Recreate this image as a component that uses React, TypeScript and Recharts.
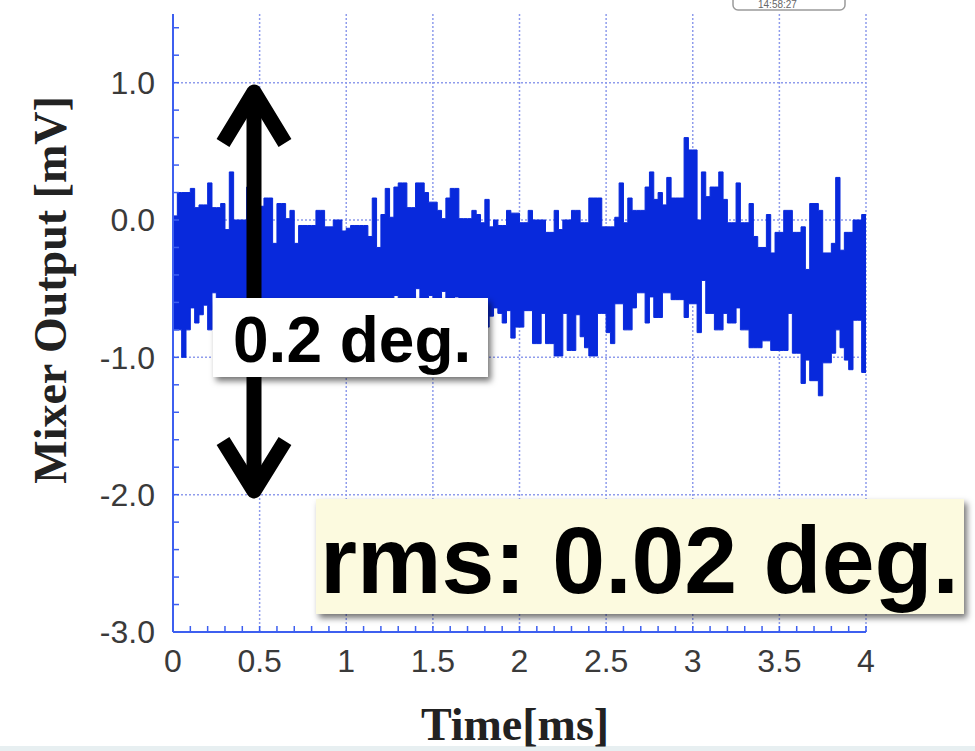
import { ComposedChart, Area, XAxis, YAxis, CartesianGrid } from 'recharts';

const TIME_MS = [
  0, 0.025, 0.05, 0.075, 0.1, 0.125, 0.15, 0.175, 0.2, 0.225,
  0.25, 0.275, 0.3, 0.325, 0.35, 0.375, 0.4, 0.425, 0.45, 0.475,
  0.5, 0.525, 0.55, 0.575, 0.6, 0.625, 0.65, 0.675, 0.7, 0.725,
  0.75, 0.775, 0.8, 0.825, 0.85, 0.875, 0.9, 0.925, 0.95, 0.975,
  1, 1.025, 1.05, 1.075, 1.1, 1.125, 1.15, 1.175, 1.2, 1.225,
  1.25, 1.275, 1.3, 1.325, 1.35, 1.375, 1.4, 1.425, 1.45, 1.475,
  1.5, 1.525, 1.55, 1.575, 1.6, 1.625, 1.65, 1.675, 1.7, 1.725,
  1.75, 1.775, 1.8, 1.825, 1.85, 1.875, 1.9, 1.925, 1.95, 1.975,
  2, 2.025, 2.05, 2.075, 2.1, 2.125, 2.15, 2.175, 2.2, 2.225,
  2.25, 2.275, 2.3, 2.325, 2.35, 2.375, 2.4, 2.425, 2.45, 2.475,
  2.5, 2.525, 2.55, 2.575, 2.6, 2.625, 2.65, 2.675, 2.7, 2.725,
  2.75, 2.775, 2.8, 2.825, 2.85, 2.875, 2.9, 2.925, 2.95, 2.975,
  3, 3.025, 3.05, 3.075, 3.1, 3.125, 3.15, 3.175, 3.2, 3.225,
  3.25, 3.275, 3.3, 3.325, 3.35, 3.375, 3.4, 3.425, 3.45, 3.475,
  3.5, 3.525, 3.55, 3.575, 3.6, 3.625, 3.65, 3.675, 3.7, 3.725,
  3.75, 3.775, 3.8, 3.825, 3.85, 3.875, 3.9, 3.925, 3.95, 3.975,
  4,
];

const UPPER_MV = [
  0.03, 0.2, 0.2, 0.2, 0.23, 0.09, 0.11, 0.11, 0.27, 0.09,
  0.09, 0.12, -0.07, 0.35, 0.0, 0.0, 0.0, 0.24, 0.15, 0.12,
  0.1, 0.16, 0.16, -0.17, 0.12, 0.12, 0.01, 0.07, -0.17, -0.04,
  -0.04, -0.04, -0.04, 0.07, 0.07, -0.05, -0.05, 0.0, 0.0, -0.08,
  -0.06, -0.04, -0.04, -0.04, -0.04, -0.12, 0.16, -0.2, 0.04, 0.23,
  0.02, 0.24, 0.27, 0.27, 0.09, 0.09, 0.27, 0.27, 0.2, 0.13,
  0.13, 0.07, 0.01, 0.16, 0.23, 0.23, 0.01, 0.01, 0.01, 0.07,
  0.04, -0.02, 0.15, -0.05, 0.0, -0.04, -0.04, 0.07, 0.05, 0.05,
  -0.02, -0.02, 0.07, 0.0, 0.0, 0.0, -0.09, -0.09, 0.07, -0.07,
  0.0, 0.0, 0.07, 0.07, -0.02, -0.02, 0.16, 0.16, 0.16, -0.05,
  -0.05, -0.05, 0.02, 0.27, -0.02, 0.16, 0.07, 0.07, 0.07, 0.24,
  0.35, 0.15, 0.2, 0.11, 0.31, 0.16, 0.16, 0.16, 0.6, 0.51,
  0.51, 0.0, 0.35, 0.17, 0.24, 0.24, 0.35, 0.15, -0.02, -0.02,
  0.27, -0.02, -0.02, 0.12, -0.12, -0.2, -0.2, 0.04, -0.24, -0.09,
  -0.09, 0.07, 0.07, -0.09, -0.09, -0.05, -0.36, 0.12, 0.12, 0.07,
  -0.24, -0.24, -0.17, 0.31, -0.22, -0.09, -0.09, 0.0, 0.0, 0.04,
  0.04,
];

const LOWER_MV = [
  -0.8, -0.8, -1.0, -0.8, -0.64, -0.75, -0.69, -0.62, -0.8, -0.53,
  -0.75, -0.85, -0.78, -0.9, -0.8, -0.72, -0.85, -0.78, -0.82, -0.75,
  -0.88, -0.8, -0.72, -0.84, -0.78, -0.86, -0.74, -0.8, -0.83, -0.76,
  -0.82, -0.7, -0.79, -0.86, -0.74, -0.8, -0.84, -0.76, -0.81, -0.72,
  -0.8, -0.85, -0.77, -0.82, -0.74, -0.8, -0.86, -0.78, -0.7, -0.82,
  -0.76, -0.55, -0.84, -0.78, -0.8, -0.72, -0.5, -0.83, -0.77, -0.55,
  -0.82, -0.75, -0.52, -0.8, -0.85, -0.56, -0.78, -0.83, -0.76, -0.8,
  -0.74, -0.82, -0.78, -0.7, -0.64, -0.68, -0.75, -0.66, -0.86, -0.78,
  -0.78, -0.66, -0.66, -0.9, -0.9, -0.68, -0.9, -0.9, -0.99, -0.99,
  -0.68, -0.95, -0.95, -0.69, -0.85, -0.93, -0.99, -0.99, -0.68, -0.68,
  -0.82, -0.9, -0.61, -0.61, -0.8, -0.8, -0.64, -0.53, -0.53, -0.75,
  -0.56, -0.71, -0.71, -0.53, -0.53, -0.58, -0.58, -0.58, -0.71, -0.61,
  -0.61, -0.82, -0.44, -0.68, -0.68, -0.8, -0.8, -0.68, -0.75, -0.75,
  -0.64, -0.8, -0.8, -0.93, -0.93, -0.93, -0.88, -0.88, -0.95, -0.95,
  -0.95, -0.95, -0.68, -0.97, -0.97, -1.19, -1.02, -1.17, -1.17, -1.28,
  -1.04, -1.04, -0.97, -0.8, -0.93, -1.02, -1.09, -0.73, -0.73, -1.11,
  -1.11,
];

// labelled ticks / gridlines
const X_GRID = [0, 0.5, 1, 1.5, 2, 2.5, 3, 3.5, 4];
const Y_GRID = [-3, -2, -1, 0, 1];
// all tick marks (labels only on the values above)
const X_TICKS = [
  0, 0.1, 0.2, 0.3, 0.4, 0.5, 0.6, 0.7, 0.8, 0.9, 1, 1.1, 1.2, 1.3, 1.4, 1.5, 1.6, 1.7, 1.8, 1.9, 2,
  2.1, 2.2, 2.3, 2.4, 2.5, 2.6, 2.7, 2.8, 2.9, 3, 3.1, 3.2, 3.3, 3.4, 3.5, 3.6, 3.7, 3.8, 3.9, 4,
];
const Y_TICKS = [
  -3, -2.8, -2.6, -2.4, -2.2, -2, -1.8, -1.6, -1.4, -1.2, -1, -0.8, -0.6, -0.4, -0.2, 0, 0.2, 0.4, 0.6,
  0.8, 1, 1.2, 1.4,
];
const Y_DOMAIN: [number, number] = [-3, 1.5];

const BAND = '#0829dc';
const AXIS = '#3d5ff0';
const GRID = '#8f9cec';
const TICK_FONT = { fontSize: 32, fill: '#3a3a3a', fontFamily: '"Liberation Sans", Arial, sans-serif' };
const SERIF = '"Liberation Serif", "Times New Roman", serif';
const SANS_BOLD = '"Liberation Sans", Arial, sans-serif';

const data = TIME_MS.map((t, i) => ({ t, band: [LOWER_MV[i], UPPER_MV[i]] }));

function Annotations() {
  return (
    <svg
      width={975}
      height={751}
      style={{ position: 'absolute', left: 0, top: 0, pointerEvents: 'none' }}
    >
      <defs>
        <filter id="shadow" x="-10%" y="-20%" width="130%" height="150%">
          <feDropShadow dx="3" dy="4" stdDeviation="3" floodColor="#000" floodOpacity="0.55" />
        </filter>
      </defs>

      <rect x={0} y={746} width={975} height={5} fill="#e7eff1" />

      {/* scope timestamp in the corner */}
      <rect x={733} y={-12} width={112} height={22} rx={5} fill="#fff" stroke="#9a9a9a" strokeWidth={1.5} />
      <text x={758} y={8} fontSize={10} fill="#666" fontFamily={SANS_BOLD}>14:58:27</text>

      <text
        transform="translate(66, 290) rotate(-90)"
        textAnchor="middle"
        fontSize={46}
        fontWeight="bold"
        fontFamily={SERIF}
        fill="#222"
      >
        Mixer Output [mV]
      </text>
      <text x={515} y={740} textAnchor="middle" fontSize={46} fontWeight="bold" fontFamily={SERIF} fill="#222">
        Time[ms]
      </text>

      {/* double arrow spanning the 0.2 deg. range */}
      <g stroke="#000" strokeWidth={15} fill="none" strokeLinejoin="round">
        <line x1={254} y1={92} x2={254} y2={491} />
        <polyline points="223,143 254,92 285,143" />
        <polyline points="223,441 254,491 285,441" />
      </g>

      <rect x={213} y={298} width={275} height={79} fill="#fff" filter="url(#shadow)" />
      <text x={233} y={362} fontSize={64} fontWeight="bold" fontFamily={SANS_BOLD} fill="#000">
        0.2 deg.
      </text>

      <rect x={316} y={499} width={648} height={115} fill="#fcfadf" filter="url(#shadow)" />
      <text x={320} y={593} fontSize={95} fontWeight="bold" fontFamily={SANS_BOLD} fill="#000">
        rms: 0.02 deg.
      </text>
    </svg>
  );
}

export default function App() {
  return (
    <div style={{ position: 'absolute', left: 0, top: 0, width: 975, height: 751, background: '#fff', overflow: 'hidden' }}>
      <ComposedChart width={975} height={751} data={data} margin={{ top: 14, right: 109, bottom: 69, left: 113 }}>
        <CartesianGrid
          stroke={GRID}
          strokeDasharray="2 2"
          strokeWidth={1.5}
          horizontalValues={Y_GRID}
          verticalValues={X_GRID}
        />

        <XAxis
          dataKey="t"
          type="number"
          domain={[0, 4]}
          ticks={X_TICKS}
          interval={0}
          height={50}
          allowDataOverflow
          axisLine={{ stroke: AXIS, strokeWidth: 2 }}
          tickLine={{ stroke: AXIS, strokeWidth: 1.5 }}
          tickSize={-6}
          tickMargin={23}
          tick={TICK_FONT}
          tickFormatter={(v: number) => (X_GRID.includes(v) ? String(v) : '')}
        />

        <YAxis
          type="number"
          domain={Y_DOMAIN}
          ticks={Y_TICKS}
          interval={0}
          width={60}
          allowDataOverflow
          axisLine={{ stroke: AXIS, strokeWidth: 2 }}
          tickLine={{ stroke: AXIS, strokeWidth: 1.5 }}
          tickSize={-6}
          tickMargin={24}
          tick={TICK_FONT}
          tickFormatter={(v: number) => (Y_GRID.includes(v) ? v.toFixed(1) : '')}
        />
        <YAxis
          yAxisId="right"
          orientation="right"
          type="number"
          domain={Y_DOMAIN}
          ticks={Y_TICKS}
          interval={0}
          width={0}
          allowDataOverflow
          axisLine={{ stroke: AXIS, strokeWidth: 2 }}
          tickLine={{ stroke: AXIS, strokeWidth: 1.5 }}
          tickSize={-6}
          tick={false}
        />

        <Area
          dataKey="band"
          type="stepAfter"
          stroke={BAND}
          strokeWidth={1}
          fill={BAND}
          fillOpacity={1}
          dot={false}
          activeDot={false}
          isAnimationActive={false}
        />
      </ComposedChart>
      <Annotations />
    </div>
  );
}
